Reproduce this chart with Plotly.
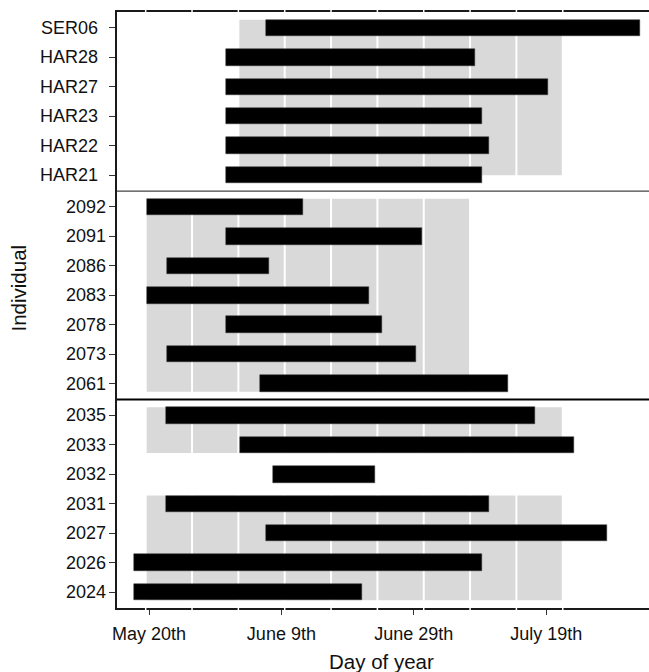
import plotly.graph_objects as go

# Individuals, grouped by study site (top to bottom)
site_a = ["SER06", "HAR28", "HAR27", "HAR23", "HAR22", "HAR21"]
site_b = ["2092", "2091", "2086", "2083", "2078", "2073", "2061"]
site_c = ["2035", "2033", "2032", "2031", "2027", "2026", "2024"]

# Tracking period of each individual (day of year)
start_a = [157.6, 151.7, 151.7, 151.7, 151.7, 151.7]
end_a = [214.2, 189.3, 200.2, 190.3, 191.3, 190.3]
start_b = [139.7, 151.7, 142.7, 139.7, 151.7, 142.7, 156.7]
end_b = [163.2, 181.3, 158.2, 173.2, 175.2, 180.3, 194.3]
start_c = [142.6, 153.7, 158.7, 142.6, 157.7, 137.7, 137.7]
end_c = [198.3, 204.2, 174.2, 191.3, 209.2, 190.3, 172.2]

# Weekly survey windows (day of year), shaded behind the individuals they cover
window_first = ["SER06", "2092", "2035", "2031"]
window_last = ["HAR21", "2061", "2033", "2024"]
window_start = [153.5, 139.5, 139.5, 139.5]
window_end = [202.5, 188.5, 202.5, 202.5]
window_open_bottom = [True, False, False, False]

# Boundaries between survey weeks
week_breaks = [139.5, 146.5, 153.5, 160.5, 167.5, 174.5, 181.5, 188.5, 195.5, 202.5]

# Date axis
tick_days = [140, 160, 180, 200]
tick_labels = ["May 20th", "June 9th", "June 29th", "July 19th"]

groups = [site_a, site_b, site_c]
starts = start_a + start_b + start_c
ends = end_a + end_b + end_c

# Row positions: one unit per individual, with padding around each site panel
PAD = 0.54
BAR_H = 0.56
ypos = {}
seps = []
pos = 0.0
for g in groups:
    pos += PAD
    for i, lab in enumerate(g):
        ypos[lab] = pos + i
    pos = pos + len(g) - 1 + PAD
    seps.append(pos)
y_total = pos

labels = site_a + site_b + site_c
yvals = [ypos[l] for l in labels]

FONT = "Liberation Sans, Arial, sans-serif"
FS = 18
FS_TITLE = 20.5
TXT = "#111111"
LINE = "#1a1a1a"

fig = go.Figure()
fig.add_trace(go.Bar(
    orientation="h",
    y=yvals,
    base=starts,
    x=[e - s for s, e in zip(starts, ends)],
    width=BAR_H,
    marker=dict(color="black", line=dict(color="#333333", width=0.5)),
    hoverinfo="skip",
    showlegend=False,
))

shapes = []
# shaded survey windows
for first, last, ws, we, open_b in zip(window_first, window_last, window_start,
                                       window_end, window_open_bottom):
    y0 = ypos[first] - BAR_H / 2
    y1 = ypos[last] + (0 if open_b else BAR_H / 2)
    shapes.append(dict(type="rect", xref="x", yref="y", x0=ws, x1=we, y0=y0, y1=y1,
                       fillcolor="#D9D9D9", line=dict(width=0), layer="below"))
# week boundaries
for wb in week_breaks:
    shapes.append(dict(type="line", xref="x", yref="y", x0=wb, x1=wb, y0=0, y1=y_total,
                       line=dict(color="white", width=2), layer="below"))
# panel separators
shapes.append(dict(type="line", xref="paper", yref="y", x0=0, x1=1, y0=seps[0], y1=seps[0],
                   line=dict(color="#444444", width=1.2), layer="above"))
shapes.append(dict(type="line", xref="paper", yref="y", x0=0, x1=1, y0=seps[1], y1=seps[1],
                   line=dict(color="black", width=2.2), layer="above"))
# week boundaries breaking the outer frame
for wb in week_breaks:
    for yy in (0, 1):
        shapes.append(dict(type="line", xref="x", yref="paper", x0=wb, x1=wb,
                           y0=yy - 0.004, y1=yy + 0.004,
                           line=dict(color="white", width=1.5), layer="above"))

annotations = []
for g, shift in zip(groups, (-17, -9, -9)):
    for lab in g:
        annotations.append(dict(text=lab, xref="paper", yref="y", x=0, y=ypos[lab],
                                xanchor="right", yanchor="middle", xshift=shift,
                                showarrow=False, font=dict(family=FONT, size=FS, color=TXT)))
annotations.append(dict(text="Individual", xref="paper", yref="paper",
                        x=(17.5 - 117) / 532, y=(608 - 288) / 596, textangle=-90,
                        xanchor="center", yanchor="middle", showarrow=False,
                        font=dict(family=FONT, size=FS_TITLE, color=TXT)))
annotations.append(dict(text="Day of year", xref="paper", yref="paper",
                        x=(381 - 117) / 532, y=(608 - 661) / 596,
                        xanchor="center", yanchor="middle", showarrow=False,
                        font=dict(family=FONT, size=FS_TITLE, color=TXT)))

px_per_day = 6.62
x0 = 140 - 32 / px_per_day
x1 = x0 + 532 / px_per_day

fig.update_layout(
    width=649, height=672,
    margin=dict(l=117, r=0, t=12, b=64),
    paper_bgcolor="white", plot_bgcolor="white",
    font=dict(family=FONT, size=FS, color=TXT),
    bargap=0,
    shapes=shapes,
    annotations=annotations,
    xaxis=dict(range=[x0, x1], tickvals=tick_days, ticktext=tick_labels,
               showgrid=False, zeroline=False, showline=True, mirror=True,
               linecolor=LINE, linewidth=1.6, ticks="outside", ticklen=5,
               tickwidth=1.2, tickcolor="#333333", ticklabelstandoff=4,
               tickfont=dict(family=FONT, size=FS, color=TXT)),
    yaxis=dict(range=[y_total, 0], tickvals=yvals, showticklabels=False,
               showgrid=False, zeroline=False, showline=True,
               linecolor=LINE, linewidth=1.6, ticks="outside", ticklen=6,
               tickwidth=1.2, tickcolor="#333333"),
)

fig.write_html("out.html")
